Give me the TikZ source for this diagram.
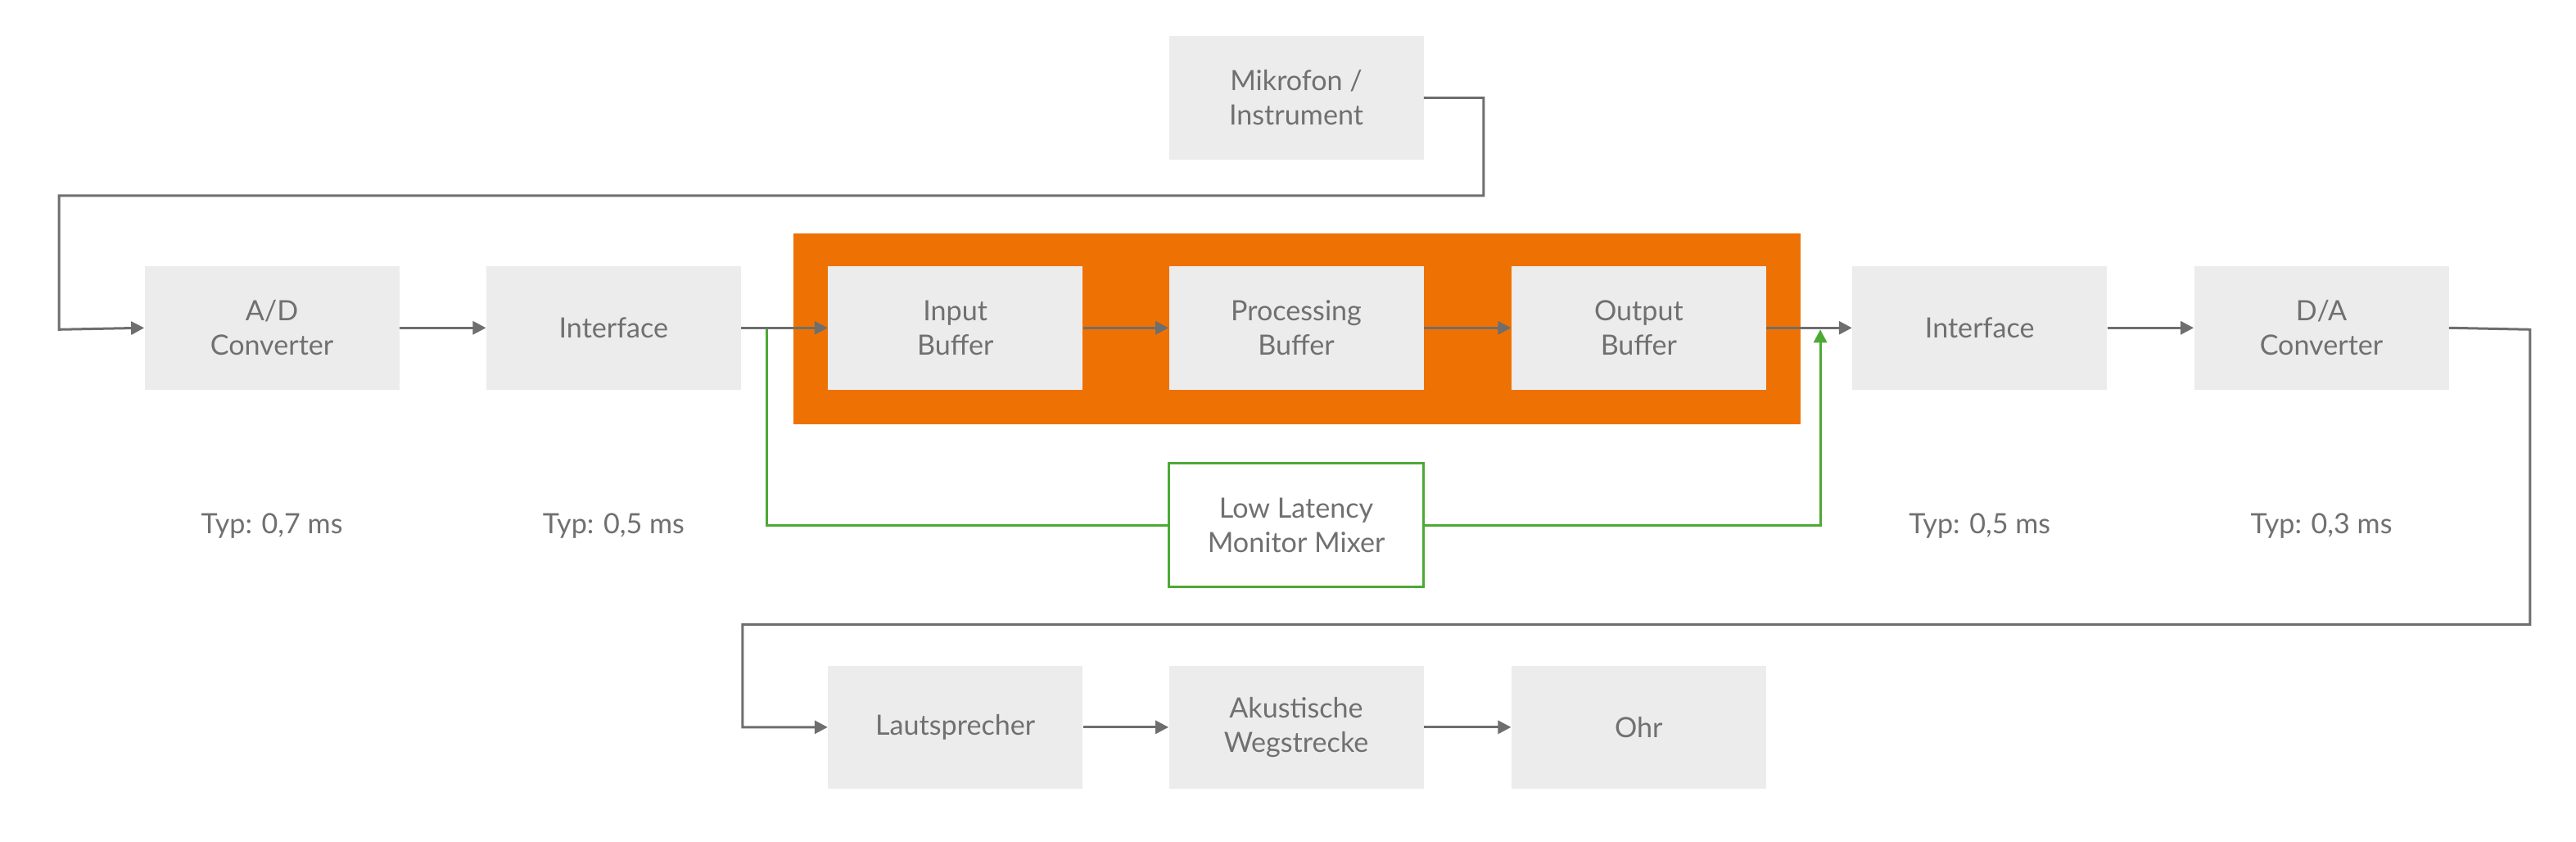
\documentclass[tikz,border=0pt]{standalone}
\usepackage{fontspec}
\setmainfont{Lato}
\usetikzlibrary{arrows.meta}
\definecolor{boxg}{HTML}{ECECEC}
\definecolor{lineg}{HTML}{6E6E6E}
\definecolor{txtg}{HTML}{707070}
\definecolor{orng}{HTML}{EE7203}
\definecolor{grn}{HTML}{4DA935}
\begin{document}
\begin{tikzpicture}[x=1pt,y=-1pt,
  box/.style={fill=boxg,draw=none,minimum width=155pt,minimum height=75pt,inner sep=0pt,align=center,text=txtg,font=\fontsize{17}{21}\selectfont},
  lbl/.style={text=txtg,font=\fontsize{17}{21}\selectfont},
  ar/.style={draw=lineg,line width=1.5pt,-{Triangle[length=8pt,width=8pt]}},
  gar/.style={draw=grn,line width=1.5pt}]
\useasboundingbox (0,0) rectangle (1568,512);
\fill[orng] (483,142) rectangle (1096,258);
\node[box] (mic) at (789,59.5) {Mikrofon /\\Instrument};
\node[box] (ad) at (165.5,199.5) {A/D\\Converter};
\node[box] (if1) at (373.5,199.5) {Interface};
\node[box] (ib) at (581.5,199.5) {Input\\Buffer};
\node[box] (pb) at (789,199.5) {Processing\\Buffer};
\node[box] (ob) at (997.5,199.5) {Output\\Buffer};
\node[box] (if2) at (1205,199.5) {Interface};
\node[box] (da) at (1413,199.5) {D/A\\Converter};
\node[box,fill=white,draw=grn,line width=1.5pt] (mix) at (789,319.5) {Low Latency\\Monitor Mixer};
\node[box] (ls) at (581.5,442.5) {Lautsprecher};
\node[box] (ak) at (789,442.5) {Akustische\\Wegstrecke};
\node[box] (ohr) at (997.5,442.5) {Ohr};
\node[lbl] (t1) at (165.5,320) {Typ: 0,7 ms};
\node[lbl] (t2) at (373.5,320) {Typ: 0,5 ms};
\node[lbl] (t3) at (1205,320) {Typ: 0,5 ms};
\node[lbl] (t4) at (1413,320) {Typ: 0,3 ms};
\coordinate (s) at (467,200.5);
\coordinate (g) at (1108,200.5);
\draw[gar] (s) |- (mix.west);
\draw[gar,-{Triangle[length=8pt,width=8pt]}] (mix.east) -| (g);
\draw[ar] (mic.east) -- (903,59.5) -- (903,119) -- (36,119) -- (36,200.5) -- (ad.west);
\draw[ar] (ad.east) -- (if1.west);
\draw[ar] (if1.east) -- (ib.west);
\draw[ar] (ib.east) -- (pb.west);
\draw[ar] (pb.east) -- (ob.west);
\draw[ar] (ob.east) -- (if2.west);
\draw[ar] (if2.east) -- (da.west);
\draw[ar] (da.east) -- (1540,200.5) -- (1540,380) -- (452,380) -- (452,442.5) -- (ls.west);
\draw[ar] (ls.east) -- (ak.west);
\draw[ar] (ak.east) -- (ohr.west);
\end{tikzpicture}
\end{document}
